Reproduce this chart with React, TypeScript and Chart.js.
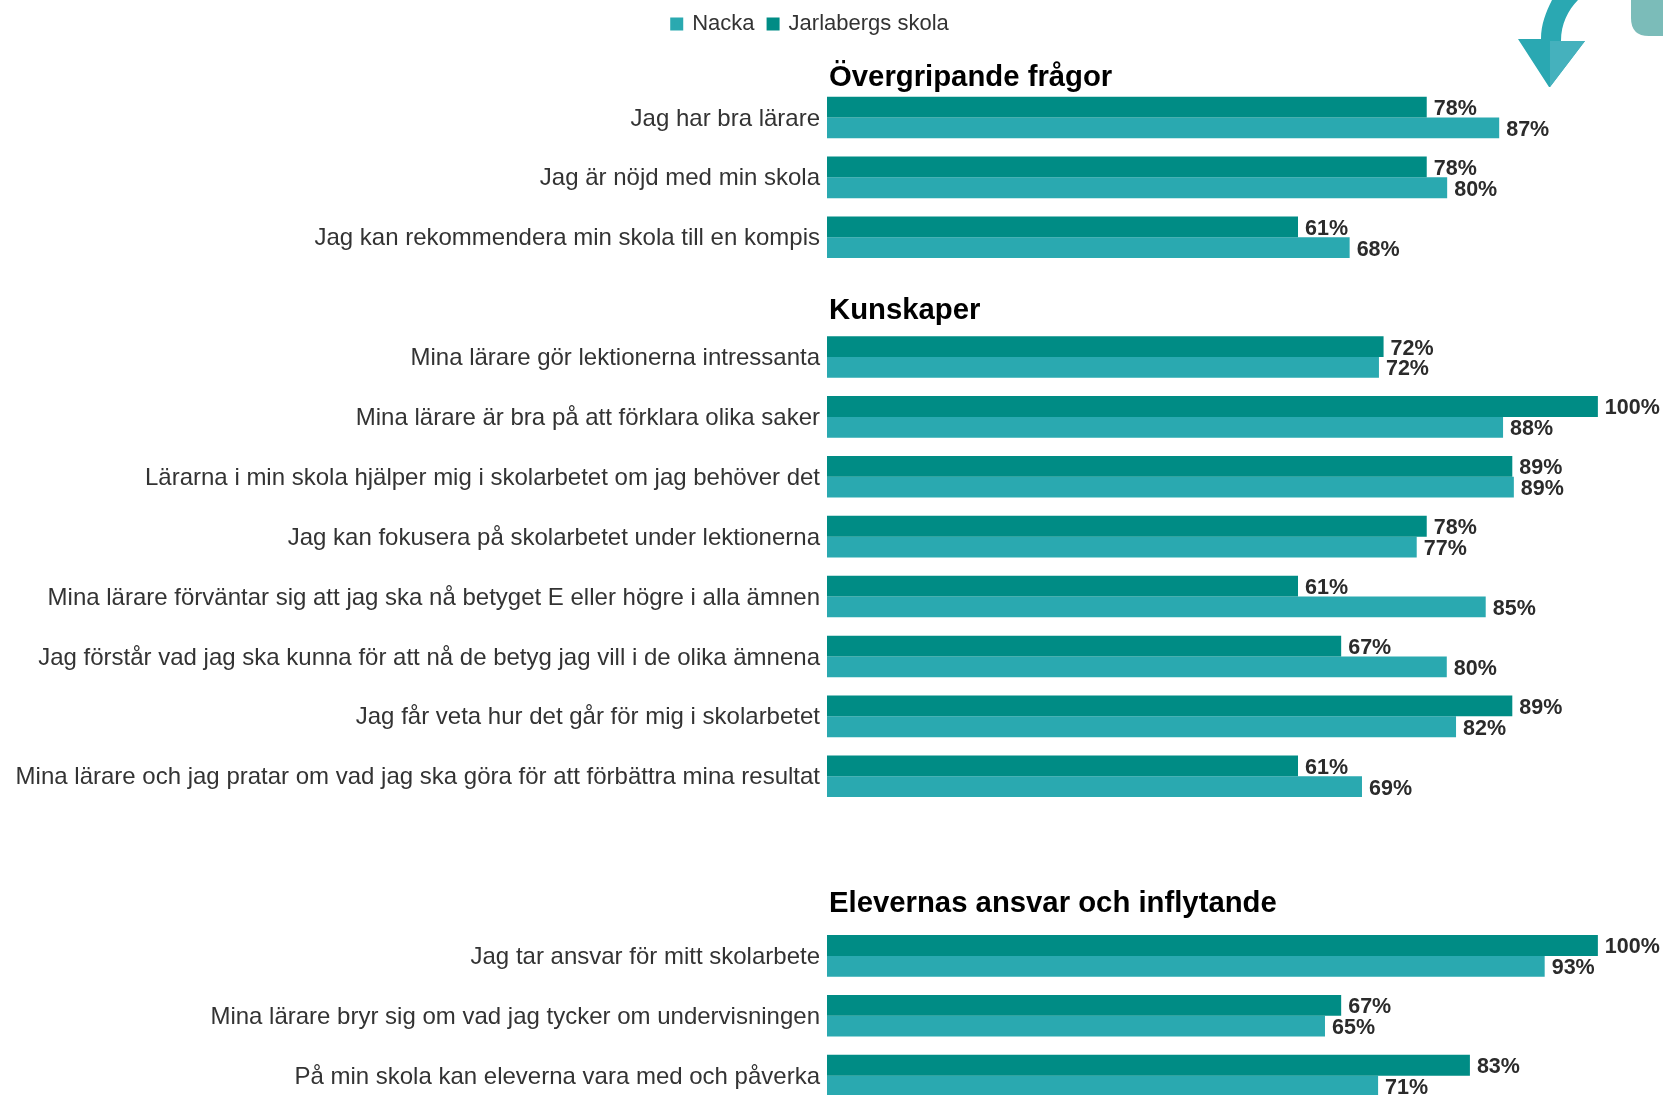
import React, { useEffect, useRef } from "react";
import { Chart, registerables } from "chart.js";

Chart.register(...registerables);

const rowLabels = [
  "Jag har bra lärare",
  "Jag är nöjd med min skola",
  "Jag kan rekommendera min skola till en kompis",
  "",
  "Mina lärare gör lektionerna intressanta",
  "Mina lärare är bra på att förklara olika saker",
  "Lärarna i min skola hjälper mig i skolarbetet om jag behöver det",
  "Jag kan fokusera på skolarbetet under lektionerna",
  "Mina lärare förväntar sig att jag ska nå betyget E eller högre i alla ämnen",
  "Jag förstår vad jag ska kunna för att nå de betyg jag vill i de olika ämnena",
  "Jag får veta hur det går för mig i skolarbetet",
  "Mina lärare och jag pratar om vad jag ska göra för att förbättra mina resultat",
  "",
  "",
  "Jag tar ansvar för mitt skolarbete",
  "Mina lärare bryr sig om vad jag tycker om undervisningen",
  "På min skola kan eleverna vara med och påverka",
];

const jarlabergs = [77.8, 77.8, 61.1, null, 72.2, 100, 88.9, 77.8, 61.1, 66.7, 88.9, 61.1, null, null, 100, 66.7, 83.4];
const nacka = [87.2, 80.45, 67.8, null, 71.6, 87.7, 89.1, 76.5, 85.45, 80.4, 81.6, 69.4, null, null, 93.1, 64.6, 71.49];

const headingTexts = ["Övergripande frågor", "Kunskaper", "Elevernas ansvar och inflytande"];
const headingRows = [0, 4, 14];
const headingOffsets = [-31, -38, -43.5];

const FONT = "'Liberation Sans', Arial, sans-serif";
const TEAL_DARK = "#008c85";
const TEAL_LIGHT = "#2aa9b0";

const annotate = {
  id: "annotate",
  afterDatasetsDraw(chart: any) {
    const { ctx, scales } = chart;
    ctx.save();
    ctx.fillStyle = "#2b2b2b";
    ctx.font = `bold 21.5px ${FONT}`;
    ctx.textAlign = "left";
    ctx.textBaseline = "middle";
    chart.data.datasets.forEach((ds: any, di: number) => {
      const meta = chart.getDatasetMeta(di);
      meta.data.forEach((bar: any, i: number) => {
        const v = ds.data[i];
        if (v == null) return;
        ctx.fillText(`${Math.round(v)}%`, bar.x + 7, bar.y + 2);
      });
    });
    ctx.fillStyle = "#000";
    ctx.font = `bold 29.3px ${FONT}`;
    ctx.textBaseline = "alphabetic";
    headingTexts.forEach((t, i) => {
      ctx.fillText(t, scales.x.getPixelForValue(0) + 2, scales.y.getPixelForValue(headingRows[i]) + headingOffsets[i]);
    });
    ctx.restore();
  },
};

export default function App() {
  const ref = useRef<HTMLCanvasElement>(null);
  useEffect(() => {
    const chart = new Chart(ref.current as HTMLCanvasElement, {
      type: "bar",
      data: {
        labels: rowLabels,
        datasets: [
          { label: "Jarlabergs skola", data: jarlabergs, backgroundColor: TEAL_DARK, categoryPercentage: 0.695, barPercentage: 1 },
          { label: "Nacka", data: nacka, backgroundColor: TEAL_LIGHT, categoryPercentage: 0.695, barPercentage: 1 },
        ],
      } as any,
      options: {
        indexAxis: "y",
        responsive: false,
        animation: false,
        layout: { padding: { right: 42, top: -1, left: 0, bottom: 0 } },
        plugins: {
          tooltip: { enabled: false },
          legend: {
            position: "top",
            reverse: true,
            labels: {
              boxWidth: 9,
              boxHeight: 9,
              padding: 14,
              color: "#333",
              font: { family: FONT, size: 22 },
              generateLabels(c: any) {
                return Chart.defaults.plugins.legend.labels
                  .generateLabels(c)
                  .map((item: any) => ({ ...item, lineWidth: 4, strokeStyle: item.fillStyle }));
              },
            },
          },
        },
        scales: {
          x: {
            position: "top",
            min: 0,
            max: 103,
            grid: { display: false },
            border: { display: false },
            ticks: { display: false },
            afterFit(s: any) {
              s.height = 42.5;
            },
          },
          y: {
            grid: { display: false, drawTicks: false },
            border: { display: false },
            ticks: {
              autoSkip: false,
              padding: 7,
              labelOffset: 1.5,
              color: "#333",
              font: { family: FONT, size: 24 },
            },
            afterFit(s: any) {
              s.width = 827;
            },
          },
        },
      } as any,
      plugins: [annotate],
    });
    return () => chart.destroy();
  }, []);

  return (
    <div style={{ position: "fixed", left: 0, top: 0, width: 1663, height: 1095, overflow: "hidden", background: "#fff" }}>
      <canvas ref={ref} width={1663} height={1127} style={{ display: "block" }} />
      <svg width={1663} height={1095} style={{ position: "absolute", left: 0, top: 0, pointerEvents: "none" }}>
        <path d="M1552 0 C1546 12 1541 24 1541 39 L1518 39 L1549 87 L1550 87 L1585 41 L1561 41 C1561 24 1568 10 1578 0 Z" fill="#2aa8b2" />
        <path d="M1550 41 L1585 41 L1550 87 Z" fill="#45b1bd" />
        <path d="M1631 0 L1663 0 L1663 36 L1649 36 Q1631 36 1631 18 Z" fill="#7bbcb9" />
      </svg>
    </div>
  );
}
